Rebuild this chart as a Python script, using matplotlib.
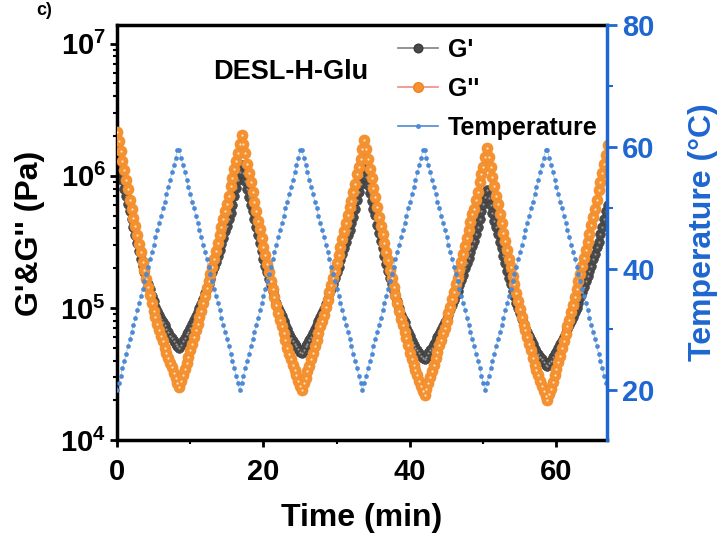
import numpy as np
import matplotlib
matplotlib.use("Agg")
import matplotlib.pyplot as plt
from matplotlib.lines import Line2D
from matplotlib.ticker import FixedLocator, FuncFormatter, LogLocator, NullFormatter

plt.rcParams['font.family'] = ['Liberation Sans', 'DejaVu Sans']
plt.rcParams['font.weight'] = 'bold'
plt.rcParams['mathtext.fontset'] = 'custom'
plt.rcParams['mathtext.rm'] = 'Liberation Sans:bold'
plt.rcParams['mathtext.bf'] = 'Liberation Sans:bold'
plt.rcParams['mathtext.default'] = 'bf'

# sampling interval of the rheometer, min
step_min = 0.25

# log10 of G' (Pa), one value per sample
g1_log = [
    6.15, 6.09, 6.03, 5.97, 5.90, 5.85, 5.79, 5.73, 5.67, 5.61, 5.55, 5.49, 5.43, 5.37, 5.32, 5.27, 5.22, 5.18,
    5.14, 5.09, 5.05, 5.01, 4.98, 4.95, 4.92, 4.89, 4.87, 4.84, 4.82, 4.79, 4.77, 4.75, 4.73, 4.71, 4.70,
    4.72, 4.75, 4.77, 4.80, 4.82, 4.85, 4.88, 4.91, 4.94, 4.97, 5.00, 5.03, 5.07, 5.11, 5.15, 5.18, 5.22,
    5.27, 5.31, 5.35, 5.39, 5.44, 5.48, 5.53, 5.58, 5.62, 5.67, 5.72, 5.78, 5.85, 5.91, 5.97, 6.03, 6.08,
    6.02, 5.96, 5.90, 5.84, 5.78, 5.73, 5.67, 5.61, 5.55, 5.49, 5.43, 5.37, 5.32, 5.27, 5.22, 5.17, 5.13,
    5.09, 5.04, 5.00, 4.97, 4.94, 4.90, 4.87, 4.84, 4.80, 4.77, 4.75, 4.73, 4.71, 4.69, 4.67, 4.66,
    4.68, 4.71, 4.73, 4.76, 4.78, 4.81, 4.84, 4.87, 4.90, 4.93, 4.96, 4.99, 5.03, 5.07, 5.11, 5.14, 5.18,
    5.23, 5.27, 5.31, 5.36, 5.41, 5.45, 5.50, 5.55, 5.59, 5.64, 5.69, 5.75, 5.82, 5.88, 5.94, 6.00, 6.05,
    5.99, 5.93, 5.87, 5.81, 5.75, 5.70, 5.63, 5.57, 5.51, 5.45, 5.39, 5.33, 5.28, 5.23, 5.18, 5.13, 5.09,
    5.05, 5.00, 4.95, 4.92, 4.89, 4.85, 4.82, 4.79, 4.75, 4.72, 4.70, 4.68, 4.66, 4.64, 4.62, 4.61,
    4.63, 4.66, 4.68, 4.70, 4.73, 4.75, 4.78, 4.80, 4.83, 4.86, 4.89, 4.92, 4.95, 4.99, 5.02, 5.06, 5.10,
    5.13, 5.17, 5.21, 5.25, 5.30, 5.34, 5.38, 5.42, 5.47, 5.51, 5.56, 5.61, 5.67, 5.73, 5.79, 5.84, 5.89,
    5.83, 5.78, 5.72, 5.66, 5.61, 5.56, 5.50, 5.45, 5.39, 5.34, 5.28, 5.23, 5.18, 5.13, 5.09, 5.04, 5.00,
    4.96, 4.92, 4.88, 4.85, 4.82, 4.79, 4.76, 4.73, 4.69, 4.67, 4.65, 4.63, 4.61, 4.59, 4.57, 4.56,
    4.58, 4.60, 4.63, 4.65, 4.67, 4.70, 4.73, 4.75, 4.78, 4.81, 4.84, 4.87, 4.90, 4.93, 4.97, 5.00, 5.04,
    5.08, 5.12, 5.16, 5.20, 5.24, 5.28, 5.32, 5.37, 5.41, 5.46, 5.50, 5.56, 5.61, 5.67, 5.73, 5.78,
]

# log10 of G'' (Pa)
g2_log = [
    6.33, 6.26, 6.19, 6.11, 6.04, 5.97, 5.90, 5.82, 5.75, 5.68, 5.62, 5.55, 5.48, 5.42, 5.35, 5.29, 5.22, 5.16,
    5.10, 5.04, 4.98, 4.93, 4.88, 4.83, 4.79, 4.75, 4.70, 4.66, 4.62, 4.58, 4.55, 4.51, 4.47, 4.43, 4.40,
    4.45, 4.49, 4.54, 4.58, 4.63, 4.68, 4.73, 4.78, 4.83, 4.88, 4.93, 4.98, 5.04, 5.09, 5.15, 5.20, 5.26,
    5.31, 5.37, 5.43, 5.49, 5.55, 5.61, 5.67, 5.73, 5.79, 5.85, 5.92, 5.98, 6.05, 6.11, 6.17, 6.24, 6.31,
    6.24, 6.17, 6.09, 6.02, 5.95, 5.88, 5.80, 5.73, 5.66, 5.60, 5.53, 5.46, 5.40, 5.33, 5.27, 5.20, 5.14,
    5.08, 5.02, 4.96, 4.91, 4.86, 4.81, 4.76, 4.70, 4.65, 4.61, 4.57, 4.53, 4.49, 4.45, 4.41, 4.38,
    4.43, 4.47, 4.52, 4.56, 4.61, 4.66, 4.71, 4.76, 4.81, 4.86, 4.90, 4.95, 5.01, 5.06, 5.12, 5.17, 5.23,
    5.28, 5.34, 5.40, 5.46, 5.52, 5.58, 5.64, 5.70, 5.76, 5.81, 5.88, 5.94, 6.01, 6.07, 6.13, 6.20, 6.27,
    6.20, 6.13, 6.05, 5.98, 5.91, 5.84, 5.76, 5.69, 5.62, 5.56, 5.49, 5.42, 5.36, 5.29, 5.23, 5.16, 5.10,
    5.04, 4.98, 4.92, 4.87, 4.82, 4.77, 4.72, 4.66, 4.61, 4.57, 4.53, 4.49, 4.45, 4.41, 4.37, 4.34,
    4.39, 4.43, 4.48, 4.52, 4.57, 4.62, 4.67, 4.72, 4.76, 4.81, 4.85, 4.90, 4.96, 5.01, 5.07, 5.12, 5.18,
    5.23, 5.29, 5.35, 5.41, 5.47, 5.53, 5.59, 5.65, 5.71, 5.75, 5.82, 5.88, 5.95, 6.01, 6.07, 6.14, 6.21,
    6.14, 6.07, 5.99, 5.92, 5.85, 5.79, 5.71, 5.64, 5.57, 5.51, 5.44, 5.37, 5.31, 5.24, 5.18, 5.11, 5.05,
    4.99, 4.93, 4.87, 4.83, 4.78, 4.73, 4.68, 4.62, 4.57, 4.53, 4.49, 4.45, 4.41, 4.37, 4.33, 4.30,
    4.35, 4.39, 4.44, 4.49, 4.54, 4.59, 4.64, 4.70, 4.75, 4.80, 4.86, 4.91, 4.97, 5.02, 5.08, 5.14, 5.20,
    5.26, 5.32, 5.38, 5.44, 5.50, 5.56, 5.63, 5.69, 5.75, 5.82, 5.89, 5.95, 6.02, 6.09, 6.16, 6.23,
]

# temperature ramp, degC
temperature = [
    20.0, 21.2, 22.4, 23.6, 24.8, 26.0, 27.2, 28.4, 29.6, 30.7, 31.9, 33.1, 34.3, 35.5, 36.7, 37.9, 39.1,
    40.3, 41.5, 42.7, 43.9, 45.1, 46.3, 47.5, 48.7, 49.9, 51.0, 52.2, 53.4, 54.6, 55.8, 57.0, 58.2, 59.4,
    59.4, 58.2, 57.0, 55.8, 54.6, 53.4, 52.2, 51.0, 49.9, 48.7, 47.5, 46.3, 45.1, 43.9, 42.7, 41.5, 40.3,
    39.1, 37.9, 36.7, 35.5, 34.3, 33.1, 31.9, 30.7, 29.6, 28.4, 27.2, 26.0, 24.8, 23.6, 22.4, 21.2,
    20.0, 21.2, 22.4, 23.6, 24.8, 26.0, 27.2, 28.4, 29.6, 30.7, 31.9, 33.1, 34.3, 35.5, 36.7, 37.9, 39.1,
    40.3, 41.5, 42.7, 43.9, 45.1, 46.3, 47.5, 48.7, 49.9, 51.0, 52.2, 53.4, 54.6, 55.8, 57.0, 58.2, 59.4,
    59.4, 58.2, 57.0, 55.8, 54.6, 53.4, 52.2, 51.0, 49.9, 48.7, 47.5, 46.3, 45.1, 43.9, 42.7, 41.5, 40.3,
    39.1, 37.9, 36.7, 35.5, 34.3, 33.1, 31.9, 30.7, 29.6, 28.4, 27.2, 26.0, 24.8, 23.6, 22.4, 21.2,
    20.0, 21.2, 22.4, 23.6, 24.8, 26.0, 27.2, 28.4, 29.6, 30.7, 31.9, 33.1, 34.3, 35.5, 36.7, 37.9, 39.1,
    40.3, 41.5, 42.7, 43.9, 45.1, 46.3, 47.5, 48.7, 49.9, 51.0, 52.2, 53.4, 54.6, 55.8, 57.0, 58.2, 59.4,
    59.4, 58.2, 57.0, 55.8, 54.6, 53.4, 52.2, 51.0, 49.9, 48.7, 47.5, 46.3, 45.1, 43.9, 42.7, 41.5, 40.3,
    39.1, 37.9, 36.7, 35.5, 34.3, 33.1, 31.9, 30.7, 29.6, 28.4, 27.2, 26.0, 24.8, 23.6, 22.4, 21.2,
    20.0, 21.2, 22.4, 23.6, 24.8, 26.0, 27.2, 28.4, 29.6, 30.7, 31.9, 33.1, 34.3, 35.5, 36.7, 37.9, 39.1,
    40.3, 41.5, 42.7, 43.9, 45.1, 46.3, 47.5, 48.7, 49.9, 51.0, 52.2, 53.4, 54.6, 55.8, 57.0, 58.2, 59.4,
    59.4, 58.2, 57.0, 55.8, 54.6, 53.4, 52.2, 51.0, 49.9, 48.7, 47.5, 46.3, 45.1, 43.9, 42.7, 41.5, 40.3,
    39.1, 37.9, 36.7, 35.5, 34.3, 33.1, 31.9, 30.7, 29.6, 28.4, 27.2, 26.0, 24.8, 23.6, 22.4, 21.2,
    20.0,
]

x_ticks = [0, 20, 40, 60]
g_ticks = [1e4, 1e5, 1e6, 1e7]
t_ticks = [20, 40, 60, 80]

sample_name = "DESL-H-Glu"
legend_labels = ["G'", "G''", "Temperature"]

c_gray = '#4a4a4a'
c_orange = '#f5922f'
c_blue_pts = '#4d8ad6'
c_blue_ax = '#1e66d0'

g1 = 10 ** np.array(g1_log)
g2 = 10 ** np.array(g2_log)
t_g1 = np.arange(len(g1)) * step_min
t_g2 = np.arange(len(g2)) * step_min
t_temp = np.arange(len(temperature)) * step_min

fig = plt.figure(figsize=(7.2, 5.42), dpi=100)
ax = fig.add_axes([0.1625, 0.188, 0.6806, 0.7657])
ax2 = ax.twinx()

# G' and G'' as "ball" markers (dark ball with a small light highlight)
ax.plot(t_g1, g1, '-', color='#808080', lw=0.8, zorder=2)
ax.plot(t_g1, g1, 'o', ms=7.0, mfc=c_gray, mec='#3c3c3c', mew=0.4, zorder=2)
ax.plot(t_g1, g1, 'o', ms=1.5, mfc='#9c9c9c', mec='none', zorder=2)
ax.plot(t_g2, g2, '-', color='#f08c80', lw=0.8, zorder=3)
ax.plot(t_g2, g2, 'o', ms=8.0, mfc=c_orange, mec='#f08a2c', mew=0.4, zorder=3)
ax.plot(t_g2, g2, 'o', ms=1.6, mfc='#fde3c8', mec='none', zorder=3)

ax2.plot(t_temp, temperature, '-', color='#7aa6e3', lw=0.5, alpha=0.7)
ax2.plot(t_temp, temperature, 'o', ms=3.0, mfc=c_blue_pts, mec='#3f7fd0', mew=0.3)

# left axis
ax.set_yscale('log')
ax.set_xlim(0, 66.9)
ax.set_ylim(1e4, 1.38e7)
ax.xaxis.set_major_locator(FixedLocator(x_ticks))
ax.xaxis.set_minor_locator(FixedLocator([10, 30, 50]))
ax.yaxis.set_major_locator(FixedLocator(g_ticks))
ax.yaxis.set_minor_locator(LogLocator(base=10, subs=np.arange(2, 10)))
ax.yaxis.set_minor_formatter(NullFormatter())
ax.yaxis.set_major_formatter(FuncFormatter(lambda v, p: r'$\mathbf{10^{%d}}$' % int(round(np.log10(v)))))
ax.tick_params(axis='both', which='major', direction='out', length=5, width=2, labelsize=21)
ax.tick_params(axis='both', which='minor', direction='out', length=3, width=1.5)
ax.tick_params(axis='x', which='major', pad=8)
ax.tick_params(axis='y', which='major', pad=3)
for s in ['left', 'top', 'bottom']:
    ax.spines[s].set_linewidth(2.5)
ax.spines['right'].set_visible(False)

# right axis
ax2.set_ylim(11.8, 80)
ax2.yaxis.set_major_locator(FixedLocator(t_ticks))
ax2.yaxis.set_minor_locator(FixedLocator([30, 50, 70]))
ax2.tick_params(axis='y', which='major', direction='out', length=7, width=2,
                labelsize=21, colors=c_blue_ax, pad=4)
ax2.tick_params(axis='y', which='minor', direction='out', length=4, width=1.5, colors=c_blue_ax)
for s in ['left', 'top', 'bottom']:
    ax2.spines[s].set_visible(False)
ax2.spines['right'].set_color(c_blue_ax)
ax2.spines['right'].set_linewidth(2.5)

fig.text(0.5028, 0.045, "Time (min)", ha='center', va='center', fontsize=23, fontweight='bold')
fig.text(0.042, 0.57, "G'&G'' (Pa)", ha='center', va='center', rotation=90,
         fontsize=23, fontweight='bold')
fig.text(0.976, 0.572, "Temperature (\u00b0C)", ha='center', va='center', rotation=90,
         fontsize=23, fontweight='bold', color=c_blue_ax)
fig.text(0.05, 0.997, "c)", ha='left', va='top', fontsize=13, fontweight='bold')

ax.text(0.196, 0.887, sample_name, transform=ax.transAxes, ha='left', va='center',
        fontsize=19.5, fontweight='bold')

handles = [
    Line2D([], [], color='#808080', lw=1.2, marker='o', ms=6.2, mfc=c_gray, mec='#3a3a3a'),
    Line2D([], [], color='#f08c80', lw=1.2, marker='o', ms=7, mfc=c_orange, mec='#ee8426'),
    Line2D([], [], color=c_blue_pts, lw=1.2, marker='o', ms=2.5, mfc=c_blue_pts, mec=c_blue_pts),
]
ax2.legend(handles, legend_labels, loc='upper left', bbox_to_anchor=(0.573, 0.97),
           frameon=False, prop={'size': 18, 'weight': 'bold'}, handlelength=1.6,
           handletextpad=0.4, labelspacing=0.6, borderpad=0, borderaxespad=0)

fig.savefig('out.png', dpi=100)
